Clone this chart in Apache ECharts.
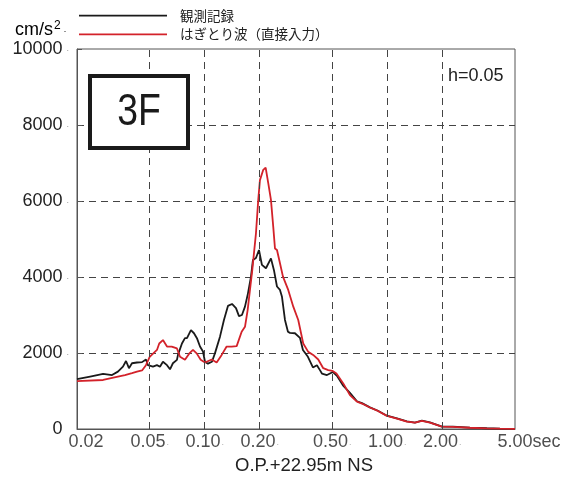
<!DOCTYPE html>
<html>
<head>
<meta charset="utf-8">
<script src="https://cdn.jsdelivr.net/npm/echarts@6/dist/echarts.min.js"></script>
<style>
html,body{margin:0;padding:0;background:#fff;}
#chart{width:567px;height:480px;}
</style>
</head>
<body>
<div id="chart"></div>
<script>
// ---- data (period in sec, response acceleration in cm/s^2) ----
const seriesNames = ['観測記録', 'はぎとり波（直接入力）'];
const seriesColors = ['#1a1a1a', '#d3222a'];

const obsPeriods = [0.020,0.0236,0.0278,0.0311,0.0335,0.0357,0.0371,0.0385,0.0400,0.0426,0.0454,0.0477,0.0489,0.0521,0.0548,0.0569,0.0591,0.0622,0.0646,0.0670,0.0705,0.0714,0.0751,0.0780,0.0800,0.0841,0.0874,0.0907,0.0943,0.0979,0.1004,0.1042,0.1096,0.1138,0.1213,0.1275,0.1341,0.1411,0.1484,0.1541,0.1600,0.1662,0.1726,0.1793,0.1838,0.1909,0.1983,0.2058,0.2165,0.2306,0.2395,0.2488,0.2584,0.2650,0.2752,0.2857,0.2930,0.3121,0.3324,0.3451,0.3675,0.3914,0.4116,0.4276,0.4385,0.4671,0.5038,0.5298,0.5714,0.6242,0.6817,0.7262,0.803,0.888,0.995,1.129,1.280,1.416,1.546,1.710,1.99,2.286,2.832,3.508,4.134,5.0];
const obsValues = [1310,1380,1450,1420,1510,1640,1790,1600,1730,1750,1760,1830,1680,1640,1680,1640,1770,1680,1570,1730,1820,1950,2250,2390,2390,2600,2520,2390,2170,2040,1770,1720,1770,1990,2430,2870,3240,3290,3180,2970,3000,3220,3570,4010,4450,4500,4710,4320,4230,4490,4180,3750,3660,3480,2870,2560,2530,2520,2400,2080,1900,1620,1680,1550,1460,1420,1500,1400,1150,950,730,680,570,480,350,280,200,170,220,175,65,60,35,20,10,5];

const redPeriods = [0.020,0.0278,0.0335,0.0366,0.0400,0.0426,0.0454,0.0477,0.0500,0.0548,0.0564,0.0591,0.0622,0.0660,0.0705,0.0733,0.0780,0.0824,0.0863,0.0904,0.0951,0.1004,0.1092,0.1163,0.1239,0.1319,0.1405,0.1497,0.1594,0.1662,0.1719,0.1770,0.1822,0.1909,0.1965,0.2007,0.2093,0.2157,0.2229,0.2306,0.2374,0.2426,0.2488,0.2584,0.2683,0.2867,0.3056,0.3253,0.3464,0.3690,0.3926,0.4186,0.4458,0.4746,0.5000,0.5265,0.5737,0.6242,0.6817,0.7262,0.803,0.888,0.995,1.129,1.280,1.416,1.546,1.710,1.99,2.286,2.832,3.508,4.134,5.0];
const redValues = [1260,1290,1380,1420,1470,1510,1540,1680,1900,2080,2250,2340,2170,2170,2120,1900,1820,1990,2080,1990,1820,1750,1830,1750,1950,2170,2170,2180,2560,2690,3130,3660,4180,5150,6030,6550,6820,6880,6470,6030,5320,4750,4710,4360,4010,3660,3220,2870,2250,2030,1950,1830,1600,1550,1530,1460,1200,890,720,670,565,475,345,275,195,165,215,170,60,55,33,18,8,3];

const xTickValues = [0.02,0.05,0.1,0.2,0.5,1,2,5];
const xTickLabels = ['0.02','0.05','0.10','0.20','0.50','1.00','2.00','5.00sec'];
const xGridValues = [0.05,0.1,0.2,0.5,1,2];
const yMax = 10000;
const yStep = 2000;
const xTitle = 'O.P.+22.95m NS';
const yUnit = 'cm/s';
const floorLabel = '3F';
const dampingLabel = 'h=0.05';

// ---- build ----
const zip = (a, b) => a.map((v, i) => [v, b[i]]);
const FONT = 'Liberation Sans, Arial, sans-serif';
const JP = 'Noto Sans CJK JP, sans-serif';

const tickData = xTickValues.map((v, i) => {
  const item = { value: [v, 0] };
  if (i === 0) item.label = { offset: [9, 0] };
  if (i === xTickValues.length - 1) item.label = { offset: [14, 0] };
  return item;
});

const legendGraphics = [];
seriesNames.forEach((name, i) => {
  const y = 15.7 + i * 18.6;
  legendGraphics.push({
    type: 'line', shape: { x1: 79, y1: y, x2: 167, y2: y },
    style: { stroke: seriesColors[i], lineWidth: 1.8 }, z: 11
  });
  legendGraphics.push({
    type: 'text', x: 180, y: y, z: 11,
    style: { text: name, fontFamily: JP, fontSize: 13.5, fill: '#222', align: 'left', verticalAlign: 'middle' }
  });
});

const chart = echarts.init(document.getElementById('chart'), null, { renderer: 'canvas' });
chart.setOption({
  animation: false,
  backgroundColor: '#fff',
  grid: { left: 77, right: 52, top: 49, bottom: 51, show: true, borderColor: '#555', borderWidth: 1, backgroundColor: 'transparent' },
  xAxis: {
    type: 'log', logBase: 10, min: 0.02, max: 5,
    axisLine: { show: true, lineStyle: { color: '#555', width: 1 } },
    axisTick: { show: false }, axisLabel: { show: false }, splitLine: { show: false }, minorTick: { show: false }
  },
  yAxis: {
    type: 'value', min: 0, max: yMax, interval: yStep,
    axisLine: { show: true, lineStyle: { color: '#555', width: 1 } },
    axisTick: { show: true, inside: true, length: 5, lineStyle: { color: '#555' } },
    axisLabel: {
      margin: 8,
      formatter: v => v === 0 ? '{v|0}{h|.}' : '{v|' + v + '}{d|.}',
      rich: {
        v: { fontFamily: FONT, fontSize: 18, color: '#222' },
        d: { fontFamily: FONT, fontSize: 9, color: '#999', padding: [0, 0, 0, 4] },
        h: { fontFamily: FONT, fontSize: 9, color: 'rgba(0,0,0,0)', padding: [0, 0, 0, 4] }
      }
    },
    splitLine: { show: true, showMinLine: false, showMaxLine: false, lineStyle: { color: '#444', type: [7, 5], width: 1 } }
  },
  series: [
    {
      name: seriesNames[0], type: 'line', data: zip(obsPeriods, obsValues),
      symbol: 'none', showSymbol: false, smooth: false,
      lineStyle: { color: seriesColors[0], width: 1.8 }, itemStyle: { color: seriesColors[0] },
      markLine: {
        silent: true, symbol: ['none', 'none'], label: { show: false },
        lineStyle: { color: '#444', type: [7, 5], width: 1 },
        data: xGridValues.map(v => ({ xAxis: v })),
        animation: false
      },
      z: 3
    },
    {
      name: seriesNames[1], type: 'line', data: zip(redPeriods, redValues),
      symbol: 'none', showSymbol: false, smooth: false,
      lineStyle: { color: seriesColors[1], width: 1.8 }, itemStyle: { color: seriesColors[1] },
      z: 4
    },
    {
      name: 'ticks', type: 'scatter', data: tickData, symbolSize: 1, silent: true,
      itemStyle: { color: 'rgba(0,0,0,0)' },
      label: {
        show: true, position: 'bottom', distance: 4,
        formatter: p => {
          const t = xTickLabels[p.dataIndex];
          return (p.dataIndex === 0 || p.dataIndex === xTickLabels.length - 1) ? '{v|' + t + '}' : '{v|' + t + '}{d|.}';
        },
        rich: {
          v: { fontFamily: FONT, fontSize: 18, color: '#222' },
          d: { fontFamily: FONT, fontSize: 9, color: '#999', padding: [0, 0, 0, 1] }
        }
      },
      clip: false, z: 5
    }
  ],
  graphic: legendGraphics.concat([
    {
      type: 'text', left: 15, top: 20,
      style: {
        text: '{a|' + yUnit + '}{s|2}{d|.}',
        rich: {
          a: { fontFamily: FONT, fontSize: 18, color: '#222' },
          s: { fontFamily: FONT, fontSize: 12, color: '#222', verticalAlign: 'top', padding: [0, 0, 8, 1] },
          d: { fontFamily: FONT, fontSize: 9, color: '#999', padding: [0, 0, 0, 3] }
        }
      }
    },
    {
      type: 'rect', shape: { x: 90, y: 76, width: 98, height: 72 },
      style: { fill: '#fff', stroke: '#1a1a1a', lineWidth: 4 }, z: 10
    },
    {
      type: 'text', x: 139, y: 113, z: 11,
      scaleX: 0.85,
      style: { text: floorLabel, fontFamily: FONT, fontSize: 44, fill: '#1a1a1a', align: 'center', verticalAlign: 'middle' }
    },
    {
      type: 'text', x: 448, y: 76, z: 11,
      style: { text: dampingLabel, fontFamily: FONT, fontSize: 18, fill: '#222', align: 'left', verticalAlign: 'middle' }
    },
    {
      type: 'text', x: 304, y: 466, z: 11,
      style: { text: xTitle, fontFamily: FONT, fontSize: 18.5, fill: '#222', align: 'center', verticalAlign: 'middle' }
    }
  ])
});
</script>
</body>
</html>
